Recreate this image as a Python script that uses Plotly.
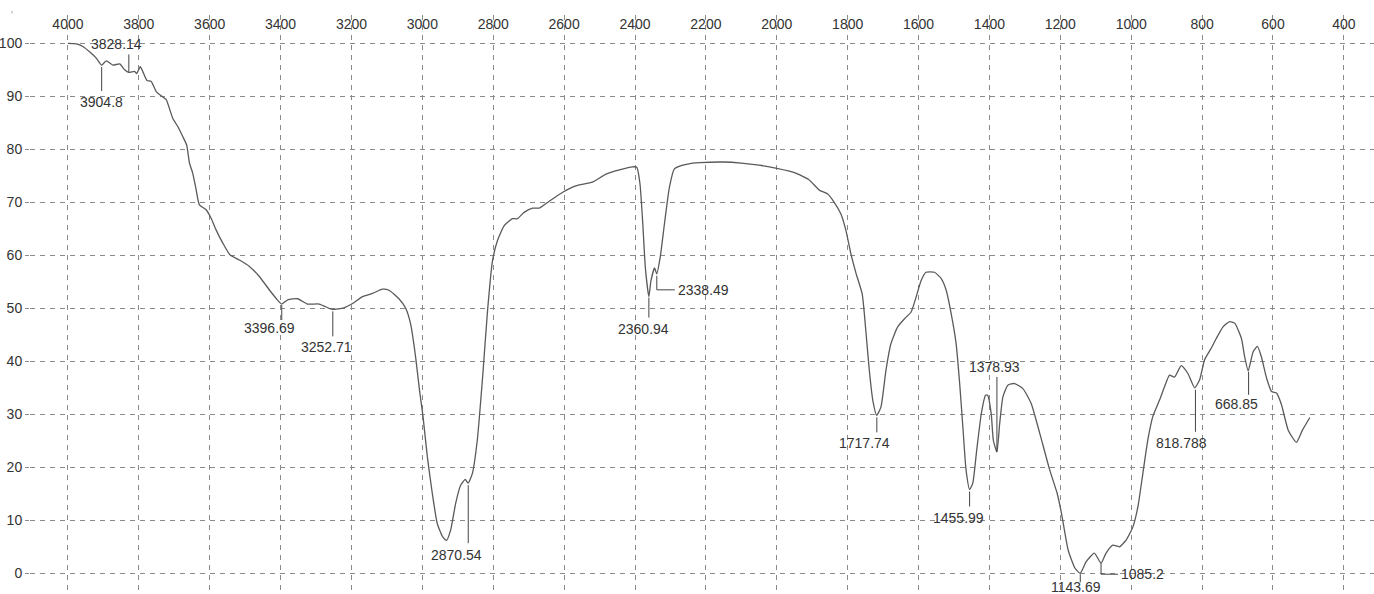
import plotly.graph_objects as go

# ---------------- data ----------------
wavenumber = [
    4000, 3976, 3958, 3939, 3920, 3904.8, 3892, 3873, 3854, 3840, 3828, 3812, 3806, 3796, 3789,
    3777, 3765, 3751, 3737, 3723, 3704, 3690, 3676, 3665, 3657, 3648, 3640, 3629, 3610, 3596,
    3582, 3563, 3543, 3516, 3488, 3460, 3432, 3413, 3397, 3380, 3352, 3324, 3291, 3263, 3253,
    3221, 3197, 3169, 3141, 3113, 3094, 3066, 3047, 3033, 3019, 3008, 2998, 2986, 2972, 2958,
    2943, 2932, 2920, 2906, 2892, 2879, 2871, 2859, 2845, 2830, 2816, 2802, 2788, 2769, 2746,
    2732, 2713, 2689, 2670, 2642, 2604, 2567, 2520, 2482, 2444, 2407, 2395, 2386, 2378, 2371,
    2361, 2355, 2345, 2338.5, 2329, 2317, 2303, 2289, 2270, 2237, 2218, 2150, 2100, 2050, 2000,
    1950, 1910, 1880, 1857, 1838, 1819, 1805, 1791, 1776, 1759, 1748, 1739, 1729, 1718, 1706,
    1692, 1678, 1659, 1640, 1621, 1607, 1593, 1579, 1555, 1536, 1522, 1508, 1494, 1484, 1475,
    1466, 1456, 1447, 1436, 1423, 1411, 1405, 1395, 1389, 1379, 1371, 1362, 1348, 1329, 1305,
    1282, 1258, 1230, 1209, 1197, 1178, 1159, 1144, 1127, 1104, 1085, 1071, 1052, 1033, 1014,
    995, 981, 967, 953, 939, 920, 906, 892, 878, 859, 840, 821, 807, 793, 774,
    760, 741, 722, 708, 689, 680, 670, 656, 644, 633, 618, 604, 590, 576, 557,
    534, 517, 496,
]
transmittance = [
    100.0, 99.9, 99.4, 98.4, 97.2, 95.9, 96.7, 95.9, 96.1, 95.0, 94.5, 94.7, 94.3, 95.6, 94.7,
    93.0, 92.8, 90.9, 90.1, 89.4, 85.8, 84.3, 82.4, 80.8, 77.4, 75.5, 73.0, 69.5, 68.6, 67.0,
    64.8, 62.3, 60.1, 59.1, 57.9, 56.0, 53.5, 51.9, 50.8, 51.6, 51.8, 50.8, 50.8, 50.0, 49.8,
    50.1, 50.9, 52.2, 52.8, 53.6, 53.4, 51.8, 50.0, 47.0, 40.8, 34.5, 29.5, 22.0, 15.1, 9.4,
    6.9, 6.2, 8.2, 13.2, 16.6, 17.7, 17.0, 18.8, 25.1, 37.0, 49.6, 59.0, 62.8, 65.6, 66.9,
    66.9, 68.1, 68.9, 68.9, 70.2, 71.9, 73.1, 73.8, 75.3, 76.1, 76.7, 76.6, 73.5, 65.9, 57.8,
    52.2, 55.2, 57.6, 56.5, 59.6, 65.9, 72.8, 76.3, 76.9, 77.4, 77.5, 77.6, 77.4, 77.0, 76.4,
    75.6, 74.3, 72.3, 71.6, 70.0, 67.8, 64.7, 60.3, 56.5, 52.7, 45.2, 38.3, 32.6, 29.8, 31.4,
    38.3, 43.3, 46.5, 48.0, 49.3, 52.1, 55.2, 56.8, 56.8, 55.6, 53.4, 49.0, 43.3, 35.8, 27.6,
    19.5, 15.8, 17.0, 23.2, 30.1, 33.6, 33.6, 30.1, 25.1, 22.9, 28.3, 33.3, 35.5, 35.8, 34.8,
    32.0, 26.4, 19.5, 15.1, 11.4, 4.4, 1.0, 0.0, 2.2, 3.8, 1.9, 3.8, 5.3, 5.0, 6.3,
    8.8, 12.6, 18.9, 25.2, 29.6, 32.7, 35.2, 37.4, 37.0, 39.2, 37.7, 35.0, 36.5, 40.3, 42.5,
    44.3, 46.5, 47.5, 47.2, 44.3, 40.9, 38.2, 41.8, 42.8, 40.9, 36.8, 34.3, 34.0, 31.8, 27.0,
    24.7, 27.0, 29.4,
]

peak_labels = ["3904.8", "3828.14", "3396.69", "3252.71", "2870.54", "2360.94", "2338.49",
               "1717.74", "1455.99", "1378.93", "1143.69", "1085.2", "818.788", "668.85"]
peak_wavenumber = [3904.8, 3828.14, 3396.69, 3252.71, 2870.54, 2360.94, 2338.49,
                   1717.74, 1455.99, 1378.93, 1143.69, 1085.2, 818.788, 668.85]
peak_transmittance = [95.9, 94.5, 50.8, 49.8, 17.0, 52.2, 56.5,
                      29.8, 15.8, 22.9, 0.0, 1.9, 35.0, 38.2]

x_tick_values = [4000, 3800, 3600, 3400, 3200, 3000, 2800, 2600, 2400, 2200,
                 2000, 1800, 1600, 1400, 1200, 1000, 800, 600, 400]
y_tick_values = [0, 10, 20, 30, 40, 50, 60, 70, 80, 90, 100]

# ---------------- styling ----------------
W, H = 1374, 594
GRID = "#8a8a8a"
TEXT = "#333333"
LINE = "#5a5a5a"
FONT = "Liberation Sans, Arial, sans-serif"

# label placement (pixels): kind, tick start, tick end, text dx, text dy (down positive)
label_place = {
    "3904.8":  ("down", 2, 26, 0, 37),
    "3828.14": ("up", 0, 18, -12, -28),
    "3396.69": ("down", 1, 16, -12, 24),
    "3252.71": ("down", 2, 27, -6, 38),
    "2870.54": ("down", 2, 60, -12, 72),
    "2360.94": ("down", 1, 21, -5, 32),
    "2338.49": ("elbow", 2, 16, 18, 16),
    "1717.74": ("down", 2, 17, -12, 28),
    "1455.99": ("down", 2, 17, -11, 28),
    "1378.93": ("up", 0, 75, -2, -85),
    "1143.69": ("down", 1, 9, -4, 14),
    "1085.2":  ("elbow", 0, 11, 17, 11),
    "818.788": ("down", 2, 44, -14, 55),
    "668.85":  ("down", 1, 24, -12, 33),
}

fig = go.Figure()
fig.add_trace(go.Scatter(
    x=wavenumber, y=transmittance, mode="lines",
    line=dict(color=LINE, width=1.3, shape="spline", smoothing=0.5),
    hoverinfo="x+y", showlegend=False,
))

shapes = []
annotations = []
for lab, w, t in zip(peak_labels, peak_wavenumber, peak_transmittance):
    kind, s, e, dx, dy = label_place[lab]
    if kind == "up":
        y0p, y1p = s, e
    else:
        y0p, y1p = -s, -e
    shapes.append(dict(type="line", xref="x", yref="y", ysizemode="pixel", yanchor=t,
                       x0=w, x1=w, y0=y0p, y1=y1p,
                       line=dict(color="#444444", width=1)))
    if kind == "elbow":
        shapes.append(dict(type="line", xref="x", yref="y", xsizemode="pixel", xanchor=w,
                           ysizemode="pixel", yanchor=t,
                           x0=0, x1=dx, y0=-e, y1=-e,
                           line=dict(color="#444444", width=1)))
        annotations.append(dict(x=w, y=t, xref="x", yref="y", text=lab, showarrow=False,
                                xanchor="left", yanchor="middle", xshift=dx + 1, yshift=-dy,
                                font=dict(family=FONT, size=14, color=TEXT)))
    else:
        annotations.append(dict(x=w, y=t, xref="x", yref="y", text=lab, showarrow=False,
                                xanchor="center", yanchor="middle", xshift=dx, yshift=-dy,
                                font=dict(family=FONT, size=14, color=TEXT)))

# small mark at the top-left corner
annotations.append(dict(x=-0.0134, y=1.0, xref="paper", yref="paper", text="'",
                        showarrow=False, xanchor="center", yanchor="middle",
                        font=dict(family=FONT, size=10, color="#999999")))

fig.update_layout(
    width=W, height=H,
    margin=dict(l=30, r=0, t=15, b=0),
    paper_bgcolor="white", plot_bgcolor="white",
    shapes=shapes, annotations=annotations,
    font=dict(family=FONT, size=14, color=TEXT),
    xaxis=dict(
        range=[4107, 315], side="top", tickvals=x_tick_values,
        ticklabelposition="inside", ticks="inside", ticklen=4,
        tickcolor="rgba(0,0,0,0)",
        showgrid=True, gridcolor=GRID, gridwidth=1, griddash="5px,5px",
        zeroline=False, showline=False,
        tickfont=dict(family=FONT, size=14, color=TEXT),
    ),
    yaxis=dict(
        range=[-3.91, 105.34], tickvals=y_tick_values,
        ticks="outside", ticklen=4, tickcolor=GRID,
        showgrid=True, gridcolor=GRID, gridwidth=1, griddash="5px,5px",
        zeroline=False, showline=False,
        tickfont=dict(family=FONT, size=14, color=TEXT),
    ),
)

fig.write_html("out.html", config={"displayModeBar": False},
               post_script="document.body.style.margin='0';document.body.style.overflow='hidden';")
